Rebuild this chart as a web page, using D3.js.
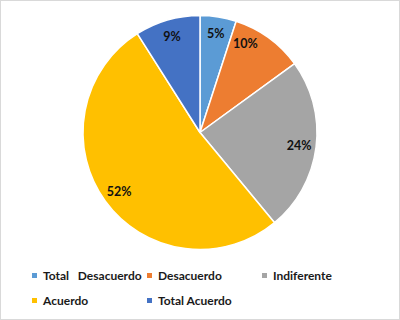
<!DOCTYPE html>
<html>
<head>
<meta charset="utf-8">
<script src="https://cdn.jsdelivr.net/npm/d3@7"></script>
<style>
  body { margin: 0; background: #fff; }
  svg { display: block; }
  text { font-family: Lato, "Open Sans", sans-serif; font-weight: bold; }
</style>
</head>
<body>
<div id="chart"></div>
<script>
// data
const categories = ["Total   Desacuerdo", "Desacuerdo", "Indiferente", "Acuerdo", "Total Acuerdo"];
const values = [5, 10, 24, 52, 9];
const colours = ["#5B9BD5", "#ED7D31", "#A5A5A5", "#FFC000", "#4472C4"];
// excel "best fit" nudged the 10% label a bit (degrees)
const labelNudge = [0, -9, 0, 0, 0];

const width = 400, height = 320;
const cx = 200, cy = 132.5, radius = 117;

const svg = d3.select("#chart")
  .append("svg")
  .attr("width", width)
  .attr("height", height);

svg.append("rect")
  .attr("x", 0.5).attr("y", 0.5)
  .attr("width", width - 1).attr("height", height - 1)
  .attr("fill", "#fff")
  .attr("stroke", "#d9d9d9");

const pie = d3.pie().sort(null).value(d => d);
const arcs = pie(values);

const arc = d3.arc().innerRadius(0).outerRadius(radius);

const g = svg.append("g").attr("transform", `translate(${cx},${cy})`);

g.selectAll("path")
  .data(arcs)
  .enter()
  .append("path")
  .attr("d", arc)
  .attr("fill", (d, i) => colours[i])
  .attr("stroke", "#fff")
  .attr("stroke-width", 1.5)
  .attr("stroke-linejoin", "round");

const labelR = 100;
g.selectAll("text.lbl")
  .data(arcs)
  .enter()
  .append("text")
  .attr("class", "lbl")
  .attr("x", (d, i) => {
    let a = (d.startAngle + d.endAngle) / 2 + labelNudge[i] * Math.PI / 180;
    return labelR * Math.sin(a);
  })
  .attr("y", (d, i) => {
    let a = (d.startAngle + d.endAngle) / 2 + labelNudge[i] * Math.PI / 180;
    return -labelR * Math.cos(a);
  })
  .attr("dy", "0.36em")
  .attr("text-anchor", "middle")
  .attr("font-size", "12.5px")
  .attr("fill", "#111")
  .text(d => d.data + "%");

// legend, 3 columns
const legend = svg.append("g").attr("transform", "translate(32,276)");
const item = legend.selectAll("g")
  .data(categories)
  .enter()
  .append("g")
  .attr("transform", (d, i) => `translate(${(i % 3) * 115},${Math.floor(i / 3) * 25})`);

item.append("rect")
  .attr("x", 0).attr("y", -3)
  .attr("width", 5).attr("height", 5)
  .attr("fill", (d, i) => colours[i]);

item.append("text")
  .attr("x", 11)
  .attr("y", 0)
  .attr("dy", "0.36em")
  .attr("font-size", "12px")
  .attr("fill", "#1a1a1a")
  .style("white-space", "pre")
  .text(d => d);
</script>
</body>
</html>
